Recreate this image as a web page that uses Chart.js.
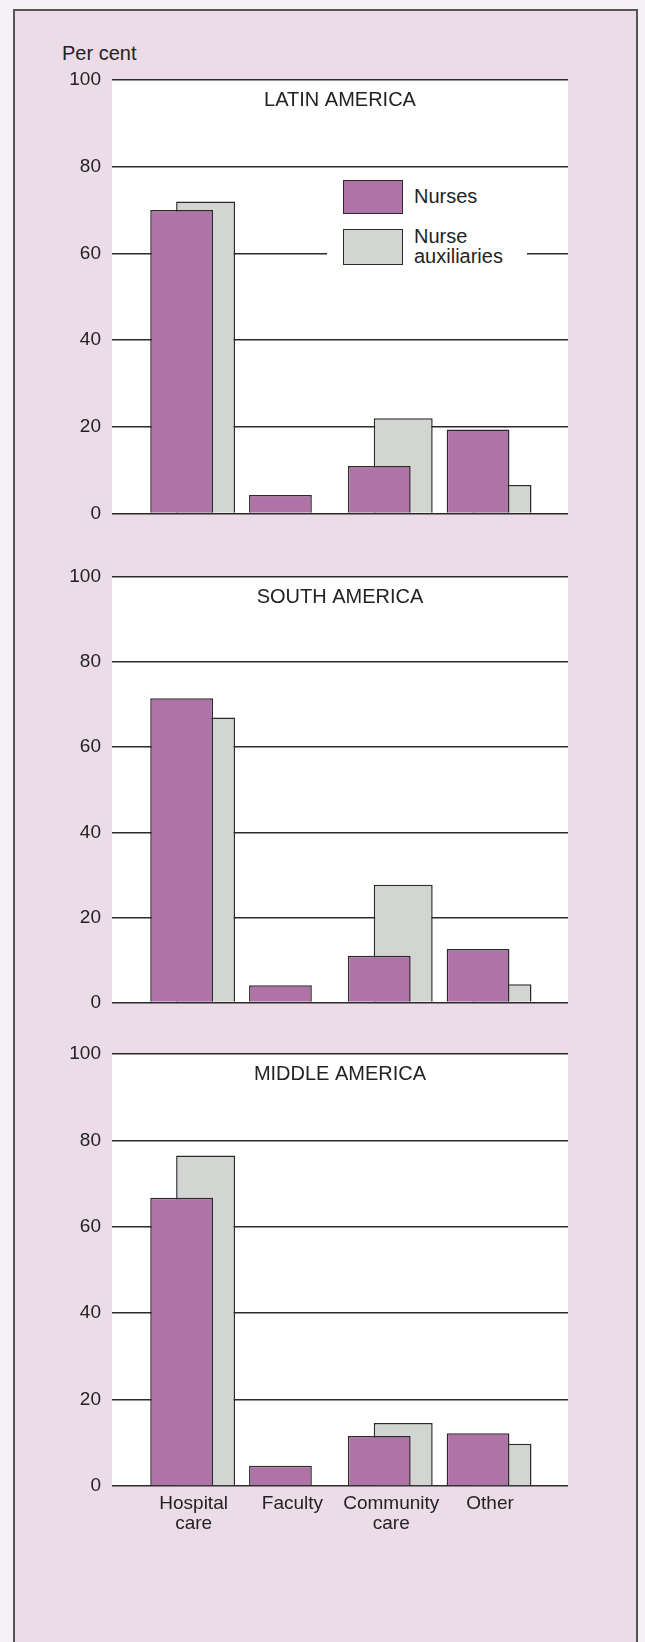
<!DOCTYPE html>
<html>
<head>
<meta charset="utf-8">
<script src="https://cdn.jsdelivr.net/npm/chart.js@4"></script>
<style>
  html, body { margin: 0; padding: 0; }
  body { width: 645px; height: 1642px; overflow: hidden; position: relative; background: #f6f1f4;
         font-family: "Liberation Sans", Arial, sans-serif; color: #232323; }
  .frame { position: absolute; left: 13px; top: 9px; width: 621px; height: 1700px;
           background: #ecdce8; border: 2px solid #555; border-bottom: none; }
  canvas { position: absolute; left: 0; }
  .unit { position: absolute; left: 62px; top: 42px; font-size: 20px; line-height: 23px; }
  .legend { position: absolute; left: 327px; top: 172px; width: 184px; padding: 8px 0 2px 16px;
            background: #fff; z-index: 2; }
  .legend .item { display: flex; align-items: center; margin-bottom: 13px; }
  .legend .sw { width: 60px; box-sizing: border-box; border: 1.5px solid #2b2b2b; margin-right: 11px; }
  .legend .lbl { font-size: 20px; line-height: 19.5px; width: 100px; }
</style>
</head>
<body>
<div class="frame"></div>
<div class="unit">Per cent</div>
<canvas id="latin" width="645" height="496" style="top:40px"></canvas>
<canvas id="south" width="645" height="488" style="top:537px"></canvas>
<canvas id="middle" width="645" height="542" style="top:1014px"></canvas>
<div class="legend" id="legend"></div>

<script>
// data (per cent)
var categories = ['Hospital care', 'Faculty', 'Community care', 'Other'];
var regions = ['LATIN AMERICA', 'SOUTH AMERICA', 'MIDDLE AMERICA'];
var seriesNames = ['Nurses', 'Nurse auxiliaries'];
var latinNurses = [70, 4.3, 11, 19.4];
var latinAux = [72, null, 22, 6.6];
var southNurses = [71.5, 4.1, 11, 12.6];
var southAux = [67, null, 27.7, 4.3];
var middleNurses = [66.7, 4.7, 11.6, 12.2];
var middleAux = [76.5, null, 14.6, 9.8];
var yTicks = [0, 20, 40, 60, 80, 100];

var NURSE = '#b073a8';
var AUX = '#d3d5d3';
var EDGE = '#2b2b2b';
var INK = '#232323';

Chart.defaults.font.family = '"Liberation Sans", Arial, sans-serif';
Chart.defaults.color = INK;

// white plot area + region name inside it
var panelTitle = {
  id: 'panelTitle',
  beforeDraw: function (chart) {
    var a = chart.chartArea, ctx = chart.ctx;
    ctx.save();
    ctx.fillStyle = '#ffffff';
    ctx.fillRect(a.left, a.top, a.right - a.left, a.bottom - a.top);
    ctx.restore();
  },
  afterDraw: function (chart, args, opts) {
    var a = chart.chartArea, ctx = chart.ctx;
    ctx.save();
    ctx.font = '20px "Liberation Sans", Arial, sans-serif';
    ctx.fillStyle = INK;
    ctx.textAlign = 'center';
    ctx.textBaseline = 'middle';
    ctx.fillText(opts.text, (a.left + a.right) / 2, a.top + 20);
    ctx.restore();
  }
};

function makePanel(id, title, nurses, aux, showLabels) {
  var ctx = document.getElementById(id).getContext('2d');
  return new Chart(ctx, {
    type: 'bar',
    plugins: [panelTitle],
    data: {
      labels: categories.map(function (c, i) { return i; }),
      datasets: [{
        label: seriesNames[0],
        data: nurses,
        backgroundColor: NURSE,
        borderColor: EDGE,
        borderWidth: 1.5,
        categoryPercentage: 0.485,
        barPercentage: 2.62
      }, {
        label: seriesNames[1],
        data: aux,
        backgroundColor: AUX,
        borderColor: EDGE,
        borderWidth: 1.5,
        categoryPercentage: 0.485,
        barPercentage: 2.46
      }]
    },
    options: {
      responsive: false,
      animation: false,
      layout: { padding: { left: 0, right: 77, top: 40, bottom: showLabels ? 10 : 20 } },
      plugins: {
        legend: { display: false },
        tooltip: { enabled: false },
        panelTitle: { text: title }
      },
      scales: {
        x: {
          type: 'linear',
          min: -0.826,
          max: 3.789,
          bounds: 'data',
          offset: false,
          afterBuildTicks: function (s) {
            s.ticks = categories.map(function (c, i) { return { value: i }; });
          },
          afterFit: function (s) { s.height = showLabels ? 60 : 0; },
          grid: { display: false, drawTicks: false, offset: false },
          border: { display: false },
          ticks: {
            display: showLabels,
            autoSkip: false,
            maxRotation: 0,
            padding: 8,
            color: INK,
            font: { size: 19, lineHeight: 1.05 },
            callback: function (v) { return categories[v] ? categories[v].split(' ') : ''; }
          }
        },
        y: {
          min: 0,
          max: 100,
          afterFit: function (s) { s.width = 112; },
          afterBuildTicks: function (s) {
            s.ticks = yTicks.map(function (v) { return { value: v }; });
          },
          grid: { color: EDGE, lineWidth: 1.5, drawTicks: false },
          border: { display: false },
          ticks: { padding: 11, color: INK, font: { size: 19 } }
        }
      }
    }
  });
}

var latinChart = makePanel('latin', regions[0], latinNurses, latinAux, false);
makePanel('south', regions[1], southNurses, southAux, false);
makePanel('middle', regions[2], middleNurses, middleAux, true);

// html legend from the first chart's datasets
var legendEl = document.getElementById('legend');
latinChart.data.datasets.forEach(function (ds, i) {
  var item = document.createElement('div');
  item.className = 'item';
  var sw = document.createElement('div');
  sw.className = 'sw';
  sw.style.background = ds.backgroundColor;
  sw.style.height = (i === 0 ? 34 : 36) + 'px';
  var lbl = document.createElement('div');
  lbl.className = 'lbl';
  lbl.textContent = ds.label;
  item.appendChild(sw);
  item.appendChild(lbl);
  legendEl.appendChild(item);
});
</script>
</body>
</html>
